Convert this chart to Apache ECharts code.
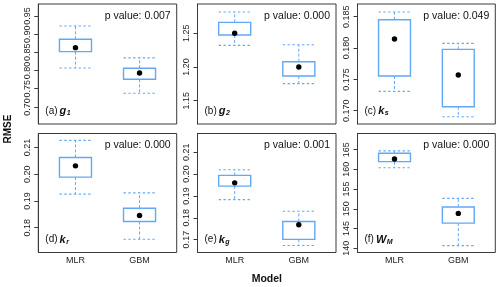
<!DOCTYPE html>
<html><head><meta charset="utf-8">
<script src="https://cdn.jsdelivr.net/npm/echarts@6.0.0/dist/echarts.min.js"></script>
<style>html,body{margin:0;padding:0;background:#fff}#c{width:500px;height:287px}</style>
</head><body><div id="c"></div>
<script>
// ---------- data ----------
const categories = ['MLR', 'GBM'];
const panelLetters = ['a', 'b', 'c', 'd', 'e', 'f'];
const varSymbols = ['g', 'g', 'k', 'k', 'k', 'W'];
const varSubscripts = ['1', '2', 's', 'r', 'g', 'M'];
const pValues = ['0.007', '0.000', '0.049', '0.000', '0.001', '0.000'];
// [lower whisker, Q1, Q3, upper whisker, mean]
const mlrStats = [
  [0.807, 0.852, 0.886, 0.9225, 0.863],
  [1.232, 1.2475, 1.2663, 1.2816, 1.250],
  [0.17308, 0.17554, 0.18452, 0.18575, 0.18144],
  [0.1925, 0.1989, 0.20625, 0.2126, 0.2031],
  [0.1883, 0.1945, 0.1994, 0.2020, 0.1960],
  [160.41, 161.95, 164.08, 164.67, 162.63]
];
const gbmStats = [
  [0.7376, 0.776, 0.8063, 0.8346, 0.7934],
  [1.1752, 1.1866, 1.2079, 1.233, 1.200],
  [0.16904, 0.17063, 0.17979, 0.18075, 0.17569],
  [0.17566, 0.18228, 0.18727, 0.1930, 0.18453],
  [0.1673, 0.1701, 0.1783, 0.1830, 0.1768],
  [140.66, 146.35, 150.43, 152.65, 148.82]
];
const yMin = [0.653, 1.1154, 0.16788, 0.1707, 0.1641, 138.9];
const yMax = [0.983, 1.2935, 0.18703, 0.2152, 0.2186, 169.1];
const yTickLabels = [
  ['0.70', '0.75', '0.80', '0.85', '0.90', '0.95'],
  ['1.15', '1.20', '1.25'],
  ['0.170', '0.175', '0.180', '0.185'],
  ['0.18', '0.19', '0.20', '0.21'],
  ['0.17', '0.18', '0.19', '0.20', '0.21'],
  ['140', '145', '150', '155', '160', '165']
];
const yAxisTitle = 'RMSE';
const xAxisTitle = 'Model';

// ---------- layout / style ----------
const colLeft = [38.3, 197.5, 357.5];
const colWidth = [138.4, 138.5, 137.8];
const rowTop = [4, 133.5];
const rowHeight = [120, 119];
const FONT = '"Liberation Sans", Arial, Helvetica, sans-serif';
const BOX = '#62a8f6';
const FRAME = '#3a3a3a';

const rects = panelLetters.map((_, i) => {
  const r = Math.floor(i / 3), c = i % 3;
  return { left: colLeft[c], top: rowTop[r], width: colWidth[c], height: rowHeight[r] };
});

const grids = rects.map(r => ({
  left: r.left, top: r.top, width: r.width, height: r.height,
  show: true, borderColor: FRAME, borderWidth: 1, backgroundColor: 'transparent',
  containLabel: false, outerBoundsMode: 'none'
}));

const xAxes = rects.map((r, i) => ({
  type: 'value', gridIndex: i, min: -0.58, max: 1.58, position: 'bottom',
  axisLine: { show: false, onZero: false }, axisTick: { show: false }, splitLine: { show: false },
  axisLabel: {
    show: i >= 3, customValues: [0, 1], margin: 4,
    fontFamily: FONT, fontSize: 9, color: '#222',
    formatter: v => categories[Math.round(v)]
  }
}));

const yAxes = rects.map((r, i) => {
  const vals = yTickLabels[i].map(Number);
  return {
    type: 'value', gridIndex: i, min: yMin[i], max: yMax[i], position: 'left',
    splitLine: { show: false },
    axisLine: { show: true, onZero: false, lineStyle: { color: FRAME, width: 1 } },
    axisTick: { show: true, customValues: vals, length: 4, lineStyle: { color: FRAME } },
    axisLabel: {
      customValues: vals, rotate: 90, margin: 6,
      fontFamily: FONT, fontSize: 9, color: '#222',
      formatter: v => {
        const k = vals.findIndex(t => Math.abs(t - v) < 1e-9);
        return k >= 0 ? yTickLabels[i][k] : '';
      }
    }
  };
});

function renderBox(params, api) {
  const x = api.value(0);
  const pLow = api.coord([x, api.value(1)]);
  const pQ1 = api.coord([x, api.value(2)]);
  const pQ3 = api.coord([x, api.value(3)]);
  const pHigh = api.coord([x, api.value(4)]);
  const pMean = api.coord([x, api.value(5)]);
  const hw = api.size([0.5, 0])[0] / 2;
  const cx = pQ1[0];
  const dashed = { stroke: BOX, lineWidth: 1, lineDash: [3, 2], fill: null };
  const dotted = { stroke: BOX, lineWidth: 1.2, lineDash: [2.4, 2.4], fill: null };
  return {
    type: 'group',
    children: [
      { type: 'line', shape: { x1: cx, y1: pQ3[1], x2: cx, y2: pHigh[1] }, style: dashed },
      { type: 'line', shape: { x1: cx, y1: pQ1[1], x2: cx, y2: pLow[1] }, style: dashed },
      { type: 'line', shape: { x1: cx - hw, y1: pHigh[1], x2: cx + hw, y2: pHigh[1] }, style: dotted },
      { type: 'line', shape: { x1: cx - hw, y1: pLow[1], x2: cx + hw, y2: pLow[1] }, style: dotted },
      { type: 'rect', shape: { x: cx - hw, y: pQ3[1], width: hw * 2, height: pQ1[1] - pQ3[1] },
        style: { stroke: BOX, lineWidth: 1.4, fill: '#fff' } },
      { type: 'circle', shape: { cx: pMean[0], cy: pMean[1], r: 2.7 }, style: { fill: '#000' } }
    ]
  };
}

const series = rects.map((r, i) => ({
  type: 'custom', xAxisIndex: i, yAxisIndex: i, clip: false,
  renderItem: renderBox,
  encode: { x: 0, y: [1, 2, 3, 4, 5] },
  data: categories.map((c, j) => [j].concat(j === 0 ? mlrStats[i] : gbmStats[i]))
}));

const graphics = [];
rects.forEach((r, i) => {
  graphics.push({
    type: 'text', x: r.left + r.width - 6, y: r.top + 12,
    style: { text: 'p value: ' + pValues[i], fontFamily: FONT, fontSize: 10.5, fill: '#111',
      textAlign: 'right', textVerticalAlign: 'middle' }
  });
  graphics.push({
    type: 'text', x: r.left + 7, y: r.top + r.height - 13,
    style: {
      text: '{n|(' + panelLetters[i] + ')}{v|' + varSymbols[i] + '}{s|' + varSubscripts[i] + '}',
      textAlign: 'left', textVerticalAlign: 'middle',
      rich: {
        n: { fontFamily: FONT, fontSize: 10, fill: '#111', padding: [0, 2, 0, 0] },
        v: { fontFamily: FONT, fontSize: 11, fontWeight: 'bold', fontStyle: 'italic', fill: '#111' },
        s: { fontFamily: FONT, fontSize: 7, fontWeight: 'bold', fontStyle: 'italic', fill: '#111', padding: [5, 0, 0, 0.5] }
      }
    }
  });
});
graphics.push({
  type: 'text', x: 8, y: 129, rotation: Math.PI / 2,
  style: { text: yAxisTitle, fontFamily: FONT, fontSize: 10, fontWeight: 'bold', fill: '#111',
    textAlign: 'center', textVerticalAlign: 'middle' }
});
graphics.push({
  type: 'text', x: (colLeft[0] + colLeft[2] + colWidth[2]) / 2, y: 279.5,
  style: { text: xAxisTitle, fontFamily: FONT, fontSize: 10.5, fontWeight: 'bold', fill: '#111',
    textAlign: 'center', textVerticalAlign: 'middle' }
});

const chart = echarts.init(document.getElementById('c'), null, { renderer: 'canvas' });
chart.setOption({
  animation: false,
  backgroundColor: '#fff',
  grid: grids, xAxis: xAxes, yAxis: yAxes, series: series, graphic: graphics
});
</script></body></html>
